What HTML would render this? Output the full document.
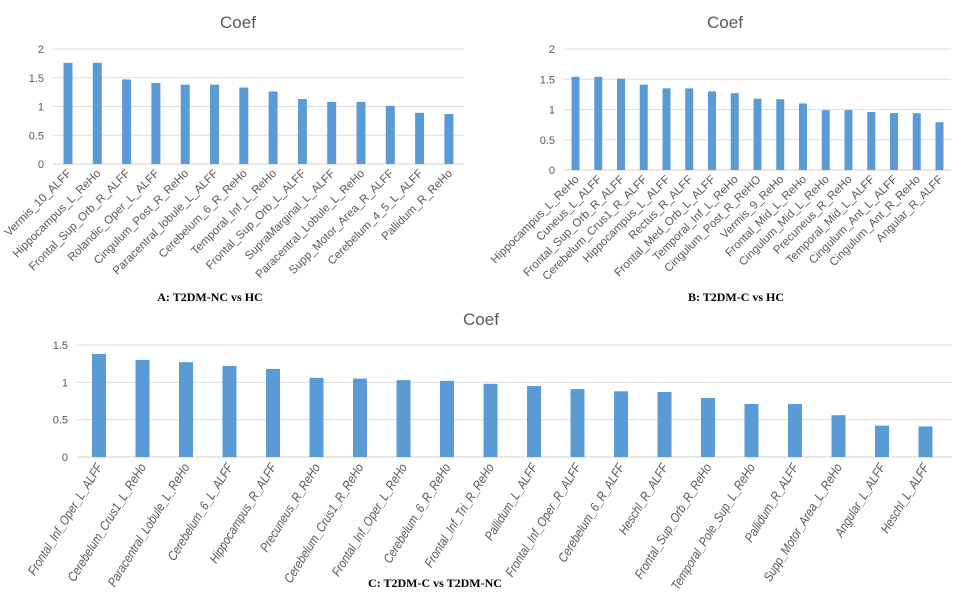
<!DOCTYPE html>
<html><head><meta charset="utf-8"><style>
body{margin:0;background:#fff;}
svg{display:block;}
</style></head><body>
<svg id="c" width="963" height="600" xmlns="http://www.w3.org/2000/svg">
<rect width="963" height="600" fill="#fff"/>
</svg>
<script>
const catsA=["Vermis_10_ALFF","Hippocampus_L_ReHo","Frontal_Sup_Orb_R_ALFF","Rolandic_Oper_L_ALFF","Cingulum_Post_R_ReHo","Paracentral_lobule_L_ALFF","Cerebelum_6_R_ReHo","Temporal_Inf_L_ReHo","Frontal_Sup_Orb_L_ALFF","SupraMarginal_L_ALFF","Paracentral_Lobule_L_ReHo","Supp_Motor_Area_R_ALFF","Cerebelum_4_5_L_ALFF","Pallidum_R_ReHo"];
const valsA=[1.76,1.76,1.47,1.41,1.38,1.38,1.33,1.26,1.13,1.08,1.08,1.01,0.89,0.87];
const ticksA=[0,0.5,1,1.5,2];
const catsB=["Hippocampus_L_ReHo","Cuneus_L_ALFF","Frontal_Sup_Orb_R_ALFF","Cerebelum_Crus1_R_ALFF","Hippocampus_L_ALFF","Rectus_R_ALFF","Frontal_Med_Orb_L_ALFF","Temporal_Inf_L_ReHo","Cingulum_Post_R_ReHO","Vermis_9_ReHo","Frontal_Mid_L_ReHo","Cingulum_Mid_L_ReHo","Precuneus_R_ReHo","Temporal_Mid_L_ALFF","Cingulum_Ant_L_ALFF","Cingulum_Ant_R_ReHo","Angular_R_ALFF"];
const valsB=[1.54,1.54,1.51,1.41,1.35,1.35,1.30,1.27,1.18,1.17,1.10,0.99,0.99,0.96,0.94,0.94,0.79];
const ticksB=[0,0.5,1,1.5,2];
const catsC=["Frontal_Inf_Oper_L_ALFF","Cerebelum_Crus1_L_ReHo","Paracentral_Lobule_L_ReHo","Cerebelum_6_L_ALFF","Hippocampus_R_ALFF","Precuneus_R_ReHo","Cerebelum_Crus1_R_ReHo","Frontal_Inf_Oper_L_ReHo","Cerebelum_6_R_ReHo","Frontal_Inf_Tri_R_ReHo","Pallidum_L_ALFF","Frontal_Inf_Oper_R_ALFF","Cerebelum_6_R_ALFF","Heschl_R_ALFF","Frontal_Sup_Orb_R_ReHo","Temporal_Pole_Sup_L_ReHo","Pallidum_R_ALFF","Supp_Motor_Area_L_ReHo","Angular_L_ALFF","Heschl_L_ALFF"];
const valsC=[1.38,1.30,1.27,1.22,1.18,1.06,1.05,1.03,1.02,0.98,0.95,0.91,0.88,0.87,0.79,0.71,0.71,0.56,0.42,0.41];
const ticksC=[0,0.5,1,1.5];

const svg=document.getElementById('c');
const NS="http://www.w3.org/2000/svg";
function mk(tag,attrs,parent){const e=document.createElementNS(NS,tag);for(const k in attrs)e.setAttribute(k,attrs[k]);(parent||svg).appendChild(e);return e;}

function chart(key,cats,vals,ticks,o){
  const g=mk('g',{});
  
  
  const maxV=ticks[ticks.length-1];
  const y=v=>o.y0-(v/maxV)*(o.y0-o.yTop);
  const x=i=>o.xFirst+i*o.step;
  ticks.forEach(t=>{
    const l=mk('line',{x1:o.left,x2:o.right,y1:y(t),y2:y(t),stroke:t===0?'#d0d0d0':'#dedede','stroke-width':1},g);
    
    
    const tx=mk('text',{x:o.left-9,y:y(t)+4,'text-anchor':'end','font-size':o.tfs,fill:'#595959','font-family':'Liberation Sans, sans-serif'},g);
    tx.textContent=String(t);
    
    
  });
  vals.forEach((v,i)=>{
    const r=mk('rect',{x:x(i)-o.bw/2,y:y(v),width:o.bw,height:o.y0-y(v),fill:'#5b9bd5'},g);
    
    
    const lx=x(i)+4, ly=o.y0+10;
    const t=mk('text',{x:lx,y:ly,'text-anchor':'end','font-size':o.lfs,fill:'#595959','font-family':'Liberation Sans, sans-serif',transform:`rotate(${o.rot} ${lx} ${ly})`,'font-style':o.italic?'italic':'normal'},g);
    if(o.cond){t.setAttribute('transform',`rotate(${o.rot} ${lx} ${ly}) translate(${lx} ${ly}) scale(${o.cond} 1) translate(${-lx} ${-ly})`);}
    t.textContent=cats[i];
    
    
  });
  const ti=mk('text',{x:o.tx,y:o.ty,'text-anchor':'middle','font-size':17,fill:'#595959','font-family':'Liberation Sans, sans-serif'},g);
  ti.textContent='Coef';
  
  
  const cp=mk('text',{x:o.cx,y:o.cy,'text-anchor':'middle','font-size':12,'font-weight':'bold',fill:'#000','font-family':'Liberation Serif, serif'},g);
  cp.textContent=o.caption;
  
  
}
chart('a',catsA,valsA,ticksA,{left:53,right:464,yTop:49,y0:164,xFirst:68,step:29.3,bw:9,tfs:11,lfs:11.5,rot:-45,tx:238,ty:28,cx:210,cy:301,caption:'A: T2DM-NC  vs HC'});
chart('b',catsB,valsB,ticksB,{left:564,right:951,yTop:49,y0:170,xFirst:575.5,step:22.75,bw:8,tfs:11,lfs:11.5,rot:-45,tx:725,ty:28,cx:736,cy:301,caption:'B: T2DM-C  vs HC'});
chart('c',catsC,valsC,ticksC,{left:77,right:952,yTop:345,y0:457,xFirst:99,step:43.5,bw:14,tfs:11,lfs:13,rot:-58,italic:true,cond:0.85,tx:481,ty:325,cx:435,cy:587,caption:'C: T2DM-C  vs T2DM-NC'});
</script>
</body></html>
